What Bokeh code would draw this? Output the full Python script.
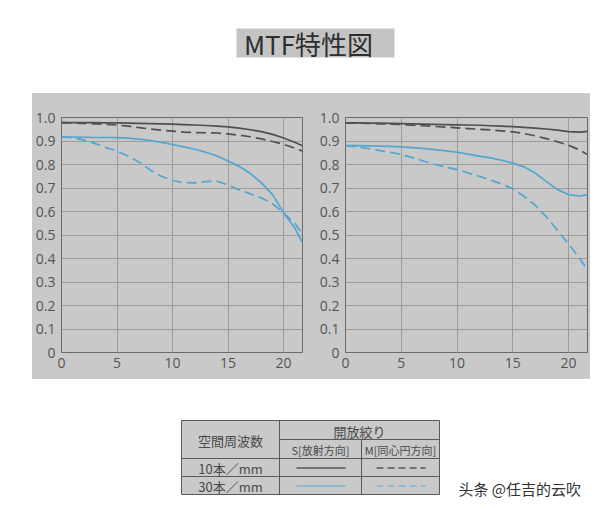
from bokeh.plotting import figure
from bokeh.layouts import column, row
from bokeh.models import Range1d, FixedTicker, Label, Spacer
from bokeh.core.properties import value
from bokeh.embed import file_html
from bokeh.resources import INLINE

# ---------------- data ----------------
title_text = "MTF特性図"
chart_names = ["24mm", "70mm"]
x_freq = [0, 1, 2, 3, 4, 5, 6, 7, 8, 9, 10, 11, 12, 13, 14, 15, 16, 17, 18, 19, 20, 21, 21.7]

mtf24_10_s = [0.978, 0.978, 0.978, 0.978, 0.977, 0.977, 0.976, 0.975, 0.974, 0.973, 0.972, 0.970,
              0.968, 0.966, 0.963, 0.960, 0.955, 0.948, 0.940, 0.928, 0.913, 0.895, 0.880]
mtf24_10_m = [0.978, 0.977, 0.975, 0.973, 0.971, 0.968, 0.963, 0.957, 0.951, 0.946, 0.942, 0.938,
              0.936, 0.935, 0.934, 0.930, 0.925, 0.918, 0.909, 0.898, 0.886, 0.870, 0.857]
mtf24_30_s = [0.917, 0.917, 0.916, 0.915, 0.915, 0.914, 0.912, 0.908, 0.902, 0.894, 0.885, 0.875,
              0.865, 0.852, 0.836, 0.815, 0.792, 0.762, 0.722, 0.672, 0.595, 0.530, 0.468]
mtf24_30_m = [0.917, 0.914, 0.905, 0.890, 0.872, 0.857, 0.836, 0.810, 0.776, 0.750, 0.732, 0.723,
              0.722, 0.727, 0.729, 0.713, 0.692, 0.675, 0.658, 0.633, 0.594, 0.550, 0.505]

mtf70_10_s = [0.977, 0.977, 0.976, 0.976, 0.975, 0.974, 0.973, 0.972, 0.971, 0.970, 0.969, 0.968,
              0.967, 0.965, 0.963, 0.961, 0.958, 0.955, 0.951, 0.946, 0.940, 0.938, 0.941]
mtf70_10_m = [0.977, 0.976, 0.975, 0.973, 0.972, 0.970, 0.967, 0.965, 0.962, 0.959, 0.956, 0.953,
              0.950, 0.947, 0.943, 0.939, 0.932, 0.922, 0.910, 0.897, 0.882, 0.862, 0.842]
mtf70_30_s = [0.880, 0.880, 0.879, 0.878, 0.877, 0.875, 0.872, 0.868, 0.863, 0.858, 0.852, 0.844,
              0.836, 0.828, 0.818, 0.806, 0.790, 0.764, 0.728, 0.693, 0.672, 0.666, 0.672]
mtf70_30_m = [0.880, 0.876, 0.868, 0.860, 0.852, 0.843, 0.829, 0.815, 0.801, 0.789, 0.778, 0.764,
              0.750, 0.734, 0.717, 0.697, 0.665, 0.627, 0.578, 0.520, 0.462, 0.400, 0.350]

x_ticks = [0, 5, 10, 15, 20]
y_ticks = [0, 0.1, 0.2, 0.3, 0.4, 0.5, 0.6, 0.7, 0.8, 0.9, 1.0]
y_tick_labels = ["0", "0.1", "0.2", "0.3", "0.4", "0.5", "0.6", "0.7", "0.8", "0.9", "1.0"]

table_row_header = "空間周波数"
table_group_header = "開放絞り"
table_col_headers = ["S[放射方向]", "M[同心円方向]"]
table_row_labels = ["10本／mm", "30本／mm"]
watermark = "头条 @任吉的云吹"

# ---------------- styles ----------------
BG = "#c9c9c9"
DARK = "#505050"
BLUE = "#52a6d0"
GRID = "#9c9c9c"
TXT = "#555555"
DASH = "10 5"
JP = "Noto Sans CJK JP"

series_styles = [(DARK, "solid"), (DARK, DASH), (BLUE, "solid"), (BLUE, DASH)]


def make_chart(name, series, width, bl, br):
    p = figure(width=width, height=286, output_backend="svg", toolbar_location=None,
               x_range=Range1d(0, 21.7), y_range=Range1d(0, 1.0),
               min_border_left=bl, min_border_right=br, min_border_top=24, min_border_bottom=27)
    p.background_fill_color = BG
    p.border_fill_color = BG
    p.outline_line_color = "#6a6a6a"
    p.outline_line_width = 1
    for ax in (p.xaxis, p.yaxis):
        ax.axis_line_color = None
        ax.major_tick_line_color = None
        ax.minor_tick_line_color = None
        ax.major_tick_out = 0
        ax.major_tick_in = 0
        ax.minor_tick_out = 0
        ax.minor_tick_in = 0
        ax.major_label_text_font = "Open Sans"
        ax.major_label_text_font_size = "14px"
        ax.major_label_text_color = TXT
    p.xaxis.ticker = FixedTicker(ticks=x_ticks)
    p.yaxis.ticker = FixedTicker(ticks=y_ticks)
    p.yaxis.major_label_overrides = dict(zip(y_ticks, y_tick_labels))
    p.xaxis.major_label_standoff = 5
    p.yaxis.major_label_standoff = 6
    p.xgrid.ticker = FixedTicker(ticks=x_ticks)
    p.ygrid.ticker = FixedTicker(ticks=y_ticks)
    p.grid.grid_line_color = GRID
    p.grid.grid_line_width = 1
    for ys, (c, d) in zip(series, series_styles):
        p.line(x_freq, ys, line_color=c, line_width=1.7, line_dash=d)
    p.add_layout(Label(x=21.7, y=1.0, x_offset=-6, y_offset=14, text=name,
                       text_align="right", text_baseline="middle",
                       text_font="Open Sans", text_font_size="15px", text_color=TXT))
    return p


f1 = make_chart(chart_names[0], [mtf24_10_s, mtf24_10_m, mtf24_30_s, mtf24_30_m], 284, 26, 14)
f2 = make_chart(chart_names[1], [mtf70_10_s, mtf70_10_m, mtf70_30_s, mtf70_30_m], 274, 28, 3)

# ---------------- title ----------------
top = figure(width=590, height=93, output_backend="svg", toolbar_location=None,
             x_range=Range1d(0, 590), y_range=Range1d(93, 0), min_border=0)
top.axis.visible = False
top.grid.visible = False
top.outline_line_color = None
top.quad(left=[236], right=[394], top=[28], bottom=[57], fill_color="#c4c4c4", line_color=None)
top.text(x=[308], y=[43], text=[title_text], text_align="center", text_baseline="middle",
         text_font=value(JP), text_font_size="26px", text_color="#2e2e2e")

# ---------------- table ----------------
bot = figure(width=590, height=128, output_backend="svg", toolbar_location=None,
             x_range=Range1d(0, 590), y_range=Range1d(507, 379), min_border=0)
bot.axis.visible = False
bot.grid.visible = False
bot.outline_line_color = None

L, C1, C2, R = 181, 279, 361, 439
T, H1, H2, R1, B = 420, 439, 458, 476, 494
bot.quad(left=[L], right=[R], top=[T], bottom=[B], fill_color=BG, line_color="#5a5a5a", line_width=1)
bot.segment(x0=[C1, C2, C1, L, L], y0=[T, H1, H1, H2, R1],
            x1=[C1, C2, R, R, R], y1=[B, B, H1, H2, R1], line_color="#5a5a5a", line_width=1)

tc = "#4a4a4a"
bot.text(x=[(L + C1) / 2], y=[(T + H2) / 2 + 1], text=[table_row_header], text_align="center",
         text_baseline="middle", text_font=value(JP), text_font_size="13px", text_color=tc)
bot.text(x=[(C1 + R) / 2], y=[(T + H1) / 2 + 1], text=[table_group_header], text_align="center",
         text_baseline="middle", text_font=value(JP), text_font_size="13px", text_color=tc)
bot.text(x=[(C1 + C2) / 2, (C2 + R) / 2], y=[(H1 + H2) / 2 + 1] * 2, text=table_col_headers,
         text_align="center", text_baseline="middle", text_font=value(JP), text_font_size="11px",
         text_color=tc)
bot.text(x=[(L + C1) / 2] * 2, y=[(H2 + R1) / 2 + 1, (R1 + B) / 2 + 1], text=table_row_labels,
         text_align="center", text_baseline="middle", text_font=value(JP), text_font_size="13px",
         text_color=tc)

row_ys = [(H2 + R1) / 2 + 0.5, (R1 + B) / 2 + 0.5]
sample_cols = [(C1 + 17, C2 - 16), (C2 + 15, R - 14)]
sample_styles = [("#555555", 1.5), ("#8dbbd6", 2.0)]
for ri, (color, lw) in enumerate(sample_styles):
    for ci, dash in enumerate(["solid", "7 4"]):
        x0, x1 = sample_cols[ci]
        bot.line([x0, x1], [row_ys[ri], row_ys[ri]], line_color=color, line_width=lw, line_dash=dash)

bot.text(x=[458], y=[488], text=[watermark], text_align="left", text_baseline="middle",
         text_font=value("Noto Sans CJK SC"), text_font_size="15px", text_color="#333333")

charts = row(f1, f2, styles={"background-color": BG})
layout = column(top, row(Spacer(width=32, height=286), charts), bot)

open("out.html", "w").write(file_html(layout, INLINE))
